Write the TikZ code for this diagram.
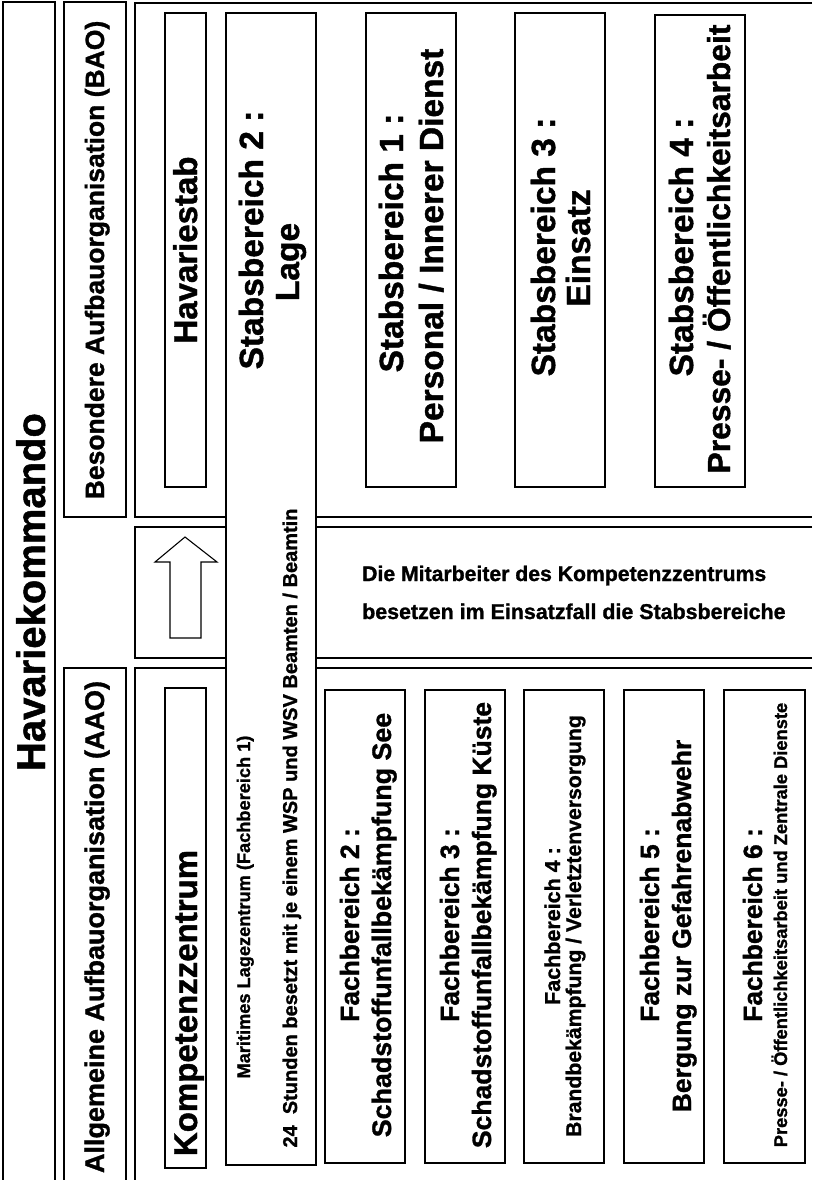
\documentclass[tikz,border=0pt]{standalone}
\usepackage{fontspec}
\setmainfont{Liberation Sans}[BoldFeatures={FakeBold=1.2}]
\newcommand{\fsz}[1]{\fontsize{#1}{#1}\selectfont}
\begin{document}
\begin{tikzpicture}[x=1pt,y=1pt,
  frame/.style={line width=1.5pt},
  box/.style={draw, line width=1.5pt, fill=white},
  vt/.style={rotate=90, anchor=base, inner sep=0pt, font=\bfseries},
  ht/.style={anchor=base west, inner sep=0pt, font=\bfseries}]
\useasboundingbox[fill=white] (0,0) rectangle (812,-1180);

% outer frames
\draw[frame] (3,-1180) -- (3,-2) -- (55,-2) -- (55,-1180);
\draw[box] (64,-2) rectangle (126,-517);
\draw[frame] (64,-1180) -- (64,-668) -- (126,-668) -- (126,-1180);
\draw[frame] (812,-3) -- (135,-3) -- (135,-517) -- (812,-517);
\draw[frame] (812,-527) -- (135,-527) -- (135,-658) -- (812,-658);
\draw[frame] (812,-668) -- (135,-668) -- (135,-1180);

% boxes
\draw[box] (165,-13) rectangle (206,-487);
\draw[box] (226,-13) rectangle (316,-1165);
\draw[box] (366,-13) rectangle (456,-487);
\draw[box] (515,-13) rectangle (605,-487);
\draw[box] (655,-15) rectangle (745,-487);
\draw[box] (165,-688) rectangle (206,-1168);
\draw[box] (325,-690) rectangle (405,-1163);
\draw[box] (425,-690) rectangle (505,-1163);
\draw[box] (524,-690) rectangle (604,-1163);
\draw[box] (624,-690) rectangle (704,-1163);
\draw[box] (724,-690) rectangle (805,-1163);

% arrow
\draw[line width=1.1pt, fill=white] (185,-537) -- (217,-562) -- (201,-562) -- (201,-638)
  -- (170,-638) -- (170,-562) -- (155,-562) -- cycle;

% texts
\node[vt] (hk) at (45,-592) {\fsz{40}Havariekommando};
\node[vt] (bao) at (104,-260) {\fsz{26.5}Besondere Aufbauorganisation (BAO)};
\node[vt] (aao) at (104,-927) {\fsz{27}Allgemeine Aufbauorganisation (AAO)};
\node[vt] (hs) at (197,-250) {\fsz{33}Havariestab};
\node[vt] (kz) at (197,-1003) {\fsz{33}Kompetenzzentrum};

\node[vt] (sb2a) at (263,-240) {\fsz{33.5}Stabsbereich 2 :};
\node[vt] (sb2b) at (299,-262) {\fsz{33.5}Lage};
\node[vt] (sb1a) at (403,-243) {\fsz{33.5}Stabsbereich 1 :};
\node[vt] (sb1b) at (443,-246) {\fsz{33.5}Personal / Innerer Dienst};
\node[vt] (sb3a) at (555,-247) {\fsz{33.5}Stabsbereich 3 :};
\node[vt] (sb3b) at (590,-248) {\fsz{33.5}Einsatz};
\node[vt] (sb4a) at (693,-247) {\fsz{33.5}Stabsbereich 4 :};
\node[vt] (sb4b) at (730,-249) {\fsz{31.8}Presse- / Öffentlichkeitsarbeit};

\node[vt] (mlz) at (250,-907) {\fsz{18.2}Maritimes Lagezentrum (Fachbereich 1)};
\node[vt] (std) at (297,-828) {\fsz{20}24\ \ Stunden besetzt mit je einem WSP und WSV Beamten / Beamtin};

\node[vt] (fb2a) at (359,-925) {\fsz{26.4}Fachbereich 2 :};
\node[vt] (fb2b) at (391,-925) {\fsz{26.8}Schadstoffunfallbekämpfung See};
\node[vt] (fb3a) at (459,-925) {\fsz{26.4}Fachbereich 3 :};
\node[vt] (fb3b) at (491,-925) {\fsz{26.5}Schadstoffunfallbekämpfung Küste};
\node[vt] (fb4a) at (560,-926) {\fsz{21.5}Fachbereich 4 :};
\node[vt] (fb4b) at (581,-926) {\fsz{21.2}Brandbekämpfung / Verletztenversorgung};
\node[vt] (fb5a) at (659,-925) {\fsz{26.4}Fachbereich 5 :};
\node[vt] (fb5b) at (691,-926) {\fsz{26.5}Bergung zur Gefahrenabwehr};
\node[vt] (fb6a) at (762,-925) {\fsz{26.4}Fachbereich 6 :};
\node[vt] (fb6b) at (787,-925) {\fsz{18.3}Presse- / Öffentlichkeitsarbeit und Zentrale Dienste};

\node[ht] (m1) at (362,-581) {\fsz{21.2}Die Mitarbeiter des Kompetenzzentrums};
\node[ht] (m2) at (362,-619) {\fsz{21.4}besetzen im Einsatzfall die Stabsbereiche};
\end{tikzpicture}
\end{document}
